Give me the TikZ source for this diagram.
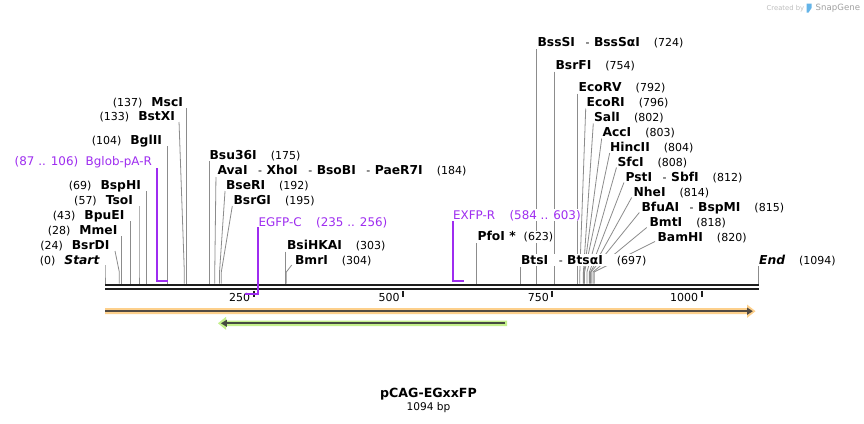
\documentclass[tikz,border=0pt]{standalone}
\usepackage{fontspec}
\setmainfont{DejaVu Sans}[ItalicFont={DejaVu Sans Oblique},BoldFont={DejaVu Sans Bold},BoldItalicFont={DejaVu Sans Bold Oblique}]
\definecolor{cutgray}{RGB}{140,140,140}
\definecolor{bbone}{RGB}{30,30,30}
\definecolor{primerc}{RGB}{158,44,240}
\definecolor{orhalo}{RGB}{253,208,140}
\definecolor{ordark}{RGB}{82,74,66}
\definecolor{grhalo}{RGB}{196,240,140}
\definecolor{grdark}{RGB}{70,76,64}
\definecolor{wmgray}{RGB}{190,190,190}
\definecolor{wmblue}{RGB}{100,180,232}
\pgfdeclarelayer{bgfill}
\pgfdeclarelayer{lines}
\pgfsetlayers{bgfill,lines,main}
\newcommand\EnzName[1]{{\fontsize{12.3}{14}\selectfont\bfseries #1}}
\newcommand\EnzPos[1]{{\fontsize{11}{13}\selectfont #1}}
\newcommand\EnzSep{\hspace{10.5pt}\EnzPos{-}\hspace{4.5pt}}
% id, bp, dx of line top, y of line top, label x, label baseline, anchor, text
\newcommand\csite[8]{%
  \coordinate (#1-s) at ({105+0.5965*#2},283.5);
  \coordinate (#1-b) at ({105+0.5965*#2},272);
  \coordinate (#1-t) at ({105+0.5965*#2+(#3)},#4);
  \node[lbl,anchor=#7] (#1) at (#5,#6) {#8};
  \begin{pgfonlayer}{lines}
  \draw[cut] (#1-t) -- (#1-b) -- (#1-s);
  \end{pgfonlayer}
}
\begin{document}
\begin{tikzpicture}[x=1pt,y=-1pt,
  lbl/.style={inner sep=0.6pt,outer sep=0pt,fill=white},
  cut/.style={draw=cutgray,line width=0.8pt},
  primer/.style={draw=primerc,line width=1.8pt},
  ptext/.style={inner sep=0.6pt,outer sep=0pt,fill=white,text=primerc,font=\fontsize{11.9}{13}\selectfont},
  bb/.style={draw=bbone,line width=2.4pt},
  tick/.style={draw=bbone,line width=1.8pt},
  ticklbl/.style={inner sep=0pt,outer sep=0pt,font=\fontsize{11}{13}\selectfont,anchor=base east}]
\begin{pgfonlayer}{bgfill}
\fill[white] (0,0) rectangle (864,423);
\end{pgfonlayer}
\useasboundingbox (0,0) rectangle (864,423);

% watermark
\node[inner sep=0pt,anchor=base west,text=wmgray,font=\fontsize{6.8}{8}\selectfont] (wm1) at (766.5,10) {Created by};
\fill[wmblue] (806.5,3.5) -- (811.5,3.5) -- (811.5,8) -- (808.5,12.5) -- (806.5,12.5) -- cycle;
\node[inner sep=0pt,anchor=base west,text=wmgray!85!black,font=\fontsize{8.6}{10}\selectfont] (wm2) at (815.5,10.5) {SnapGene};

% backbone
\coordinate (bbL1) at (105,284.7);
\coordinate (bbR1) at (759,284.7);
\coordinate (bbL2) at (105,288.9);
\coordinate (bbR2) at (759,288.9);
\draw[bb] (bbL1) -- (bbR1);
\draw[bb] (bbL2) -- (bbR2);

% ticks
\foreach \v/\t in {250/t250,500/t500,750/t750,1000/t1000}{
  \coordinate (\t-a) at ({104.4+0.5973*\v},290.8);
  \coordinate (\t-b) at ({104.4+0.5973*\v},297);
  \draw[tick] (\t-a) -- (\t-b);
  \node[ticklbl] (\t) at ({104.4+0.5973*\v-3.5},301) {\v};
}

% left side labels
\csite{start}{0}{0}{265}{100}{264}{base east}{\EnzPos{(0)}\hspace{9pt}\EnzName{\itshape Start}}
\csite{bsrdi}{24}{-4.3}{251}{110}{249}{base east}{\EnzPos{(24)}\hspace{9pt}\EnzName{BsrDI}}
\csite{mmei}{28}{0}{236}{118}{234}{base east}{\EnzPos{(28)}\hspace{9pt}\EnzName{MmeI}}
\csite{bpuei}{43}{0}{221}{125}{219}{base east}{\EnzPos{(43)}\hspace{9pt}\EnzName{BpuEI}}
\csite{tsoi}{57}{0}{206}{133.5}{204}{base east}{\EnzPos{(57)}\hspace{9pt}\EnzName{TsoI}}
\csite{bsphi}{69}{0}{191}{141.5}{189}{base east}{\EnzPos{(69)}\hspace{9pt}\EnzName{BspHI}}
\csite{bglii}{104}{0}{146}{162.5}{144.5}{base east}{\EnzPos{(104)}\hspace{9pt}\EnzName{BglII}}
\csite{bstxi}{133}{-5.3}{122}{175.5}{120.7}{base east}{\EnzPos{(133)}\hspace{9pt}\EnzName{BstXI}}
\csite{msci}{137}{0}{108}{183.5}{106.5}{base east}{\EnzPos{(137)}\hspace{9pt}\EnzName{MscI}}

% middle / right labels
\csite{bsu36i}{175}{0}{161}{209}{159}{base west}{\EnzName{Bsu36I}\hspace{14pt}\EnzPos{(175)}}
\csite{avai}{184}{1.2}{177}{217}{174}{base west}{\EnzName{AvaI}\EnzSep\EnzName{XhoI}\EnzSep\EnzName{BsoBI}\EnzSep\EnzName{PaeR7I}\hspace{14pt}\EnzPos{(184)}}
\csite{bseri}{192}{5.5}{191}{225.5}{189}{base west}{\EnzName{BseRI}\hspace{14pt}\EnzPos{(192)}}
\csite{bsrgi}{195}{11}{206}{233}{204}{base west}{\EnzName{BsrGI}\hspace{14pt}\EnzPos{(195)}}
\csite{bsihkai}{303}{0}{251.5}{286.5}{249}{base west}{\EnzName{BsiHKAI}\hspace{14pt}\EnzPos{(303)}}
\csite{bmri}{304}{5.4}{265}{294.5}{264}{base west}{\EnzName{BmrI}\hspace{14pt}\EnzPos{(304)}}
\csite{pfoi}{623}{0}{243}{477}{240.7}{base west}{\EnzName{PfoI *}\hspace{8pt}\EnzPos{(623)}}
\csite{btsi}{697}{0}{267}{520.5}{264}{base west}{\EnzName{BtsI}\EnzSep\EnzName{BtsαI}\hspace{14pt}\EnzPos{(697)}}
\csite{bsssi}{724}{0}{49}{537}{46.5}{base west}{\EnzName{BssSI}\EnzSep\EnzName{BssSαI}\hspace{14pt}\EnzPos{(724)}}
\csite{bsrfi}{754}{0}{71.5}{555}{69}{base west}{\EnzName{BsrFI}\hspace{14pt}\EnzPos{(754)}}
\csite{ecorv}{792}{0}{93.5}{578}{91.5}{base west}{\EnzName{EcoRV}\hspace{14pt}\EnzPos{(792)}}
\csite{ecori}{796}{5.9}{108.5}{586}{106.5}{base west}{\EnzName{EcoRI}\hspace{14pt}\EnzPos{(796)}}
\csite{sali}{802}{9.9}{123.5}{593.5}{121.5}{base west}{\EnzName{SalI}\hspace{14pt}\EnzPos{(802)}}
\csite{acci}{803}{17.7}{138.5}{602}{136.5}{base west}{\EnzName{AccI}\hspace{14pt}\EnzPos{(803)}}
\csite{hincii}{804}{25.1}{153}{609.5}{151}{base west}{\EnzName{HincII}\hspace{14pt}\EnzPos{(804)}}
\csite{sfci}{808}{29.5}{167.5}{617}{166}{base west}{\EnzName{SfcI}\hspace{14pt}\EnzPos{(808)}}
\csite{psti}{812}{34.6}{182.5}{625}{181}{base west}{\EnzName{PstI}\EnzSep\EnzName{SbfI}\hspace{14pt}\EnzPos{(812)}}
\csite{nhei}{814}{41.1}{197.5}{633}{196}{base west}{\EnzName{NheI}\hspace{14pt}\EnzPos{(814)}}
\csite{bfuai}{815}{48.2}{212.5}{641}{211}{base west}{\EnzName{BfuAI}\EnzSep\EnzName{BspMI}\hspace{14pt}\EnzPos{(815)}}
\csite{bmti}{818}{53.8}{227.5}{649}{226}{base west}{\EnzName{BmtI}\hspace{14pt}\EnzPos{(818)}}
\csite{bamhi}{820}{60.9}{241.5}{657}{241}{base west}{\EnzName{BamHI}\hspace{14pt}\EnzPos{(820)}}
\csite{end}{1095.8}{0}{266}{758.5}{264}{base west}{\EnzName{\itshape End}\hspace{14pt}\EnzPos{(1094)}}

% primers
\node[ptext,anchor=base east] (bglob) at (152.5,165.5) {(87 .. 106)\hspace{7.5pt}Bglob-pA-R};
\coordinate (bglob-t) at (156.9,168);
\coordinate (bglob-c) at (156.9,281);
\coordinate (bglob-e) at (168.3,281);
\draw[primer] (bglob-t) -- (bglob-c) -- (bglob-e);

\node[ptext,anchor=base west] (egfpc) at (258,226) {EGFP-C\hspace{14.5pt}(235 .. 256)};
\coordinate (egfpc-t) at (258.3,227);
\coordinate (egfpc-c) at (258.3,294);
\coordinate (egfpc-e) at (245.3,294);
\draw[primer] (egfpc-t) -- (egfpc-c) -- (egfpc-e);

\node[ptext,anchor=base west] (exfpr) at (452.5,219) {EXFP-R\hspace{14.5pt}(584 .. 603)};
\coordinate (exfpr-t) at (452.7,221);
\coordinate (exfpr-c) at (452.7,281);
\coordinate (exfpr-e) at (464.3,281);
\draw[primer] (exfpr-t) -- (exfpr-c) -- (exfpr-e);

% features
\fill[orhalo] (105,308.2) -- (747,308.2) -- (747,304.5) -- (755.5,311.2) -- (747,317.9) -- (747,314.2) -- (105,314.2) -- cycle;
\coordinate (orA) at (105,311.2);
\coordinate (orB) at (748,311.2);
\draw[ordark,line width=2.2pt] (orA) -- (orB);
\fill[ordark] (747.2,307.6) -- (752.8,311.2) -- (747.2,314.8) -- cycle;

\fill[grhalo] (507,320.5) -- (226,320.5) -- (226,316.8) -- (218,323.3) -- (226,329.8) -- (226,326.1) -- (507,326.1) -- cycle;
\coordinate (grA) at (505,323.3);
\coordinate (grB) at (225,323.3);
\draw[grdark,line width=2.2pt] (grA) -- (grB);
\fill[grdark] (226.8,319.7) -- (221,323.3) -- (226.8,326.9) -- cycle;

% title
\node[inner sep=0pt,anchor=base,font=\fontsize{12.6}{15}\selectfont\bfseries] (title) at (428.5,397) {pCAG-EGxxFP};
\node[inner sep=0pt,anchor=base,font=\fontsize{10.6}{13}\selectfont] (size) at (428.5,410) {1094 bp};
\end{tikzpicture}
\end{document}
